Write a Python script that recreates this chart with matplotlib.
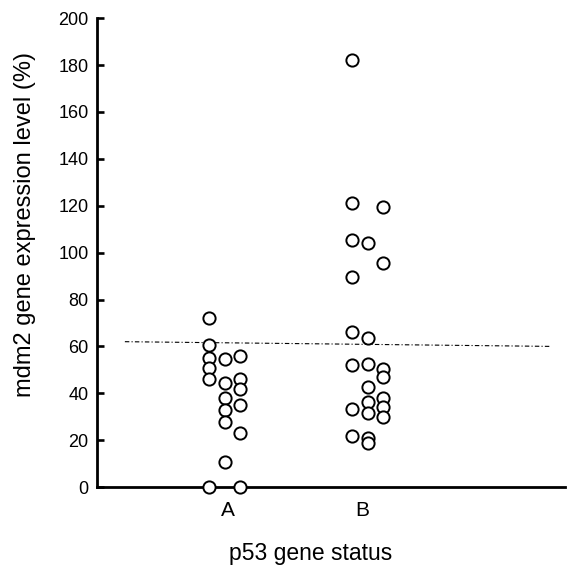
import matplotlib.pyplot as plt

plt.rcParams['font.family'] = ['Liberation Sans', 'DejaVu Sans']

groups = ["A", "B"]

# mdm2 expression level (%) per sample, with the column it is drawn in (-1, 0, 1)
a_values = [72, 60.5, 55, 50.7, 46, 0,
            54.6, 44.3, 38, 33, 27.7, 10.7,
            56, 46, 42, 35, 23, 0]
a_cols = [-1, -1, -1, -1, -1, -1,
          0, 0, 0, 0, 0, 0,
          1, 1, 1, 1, 1, 1]

b_values = [182, 121, 105.3, 89.6, 66, 52, 33.3, 21.7,
            104, 63.5, 52.5, 42.6, 36.2, 31.6, 21, 18.8,
            119.4, 95.5, 50.3, 47, 38, 34, 30]
b_cols = [-1, -1, -1, -1, -1, -1, -1, -1,
          0, 0, 0, 0, 0, 0, 0, 0,
          1, 1, 1, 1, 1, 1, 1]

cutoff = [62, 60]
yticks = list(range(0, 201, 20))

fig = plt.figure(figsize=(5.74, 5.70), dpi=100)
ax = fig.add_axes([0.169, 0.1456, 0.815, 0.8224])

spread = 0.108
for i, (vals, cols) in enumerate([(a_values, a_cols), (b_values, b_cols)]):
    xs = [i + 1 + c * spread for c in cols]
    ax.plot(xs, vals, linestyle="none", marker="o", markersize=8.8,
            markerfacecolor="white", markeredgecolor="black",
            markeredgewidth=1.4, clip_on=False, zorder=5)

ax.plot([0.30, 3.27], cutoff, color="black", linewidth=0.8,
        linestyle=(0, (4, 2, 1, 2)), zorder=3)

ax.set_xlim(0.105, 3.378)
ax.set_ylim(0, 200)
ax.set_xticks([1.02, 1.96])
ax.set_xticklabels(groups, fontsize=15)
ax.set_yticks(yticks)
ax.tick_params(axis="y", direction="in", length=5, width=1.9, labelsize=13, pad=6)
ax.tick_params(axis="x", length=0, pad=10)

for s in ["top", "right"]:
    ax.spines[s].set_visible(False)
for s in ["left", "bottom"]:
    ax.spines[s].set_linewidth(2.0)

ax.set_xlabel("p53 gene status", fontsize=16.5)
ax.set_ylabel("mdm2 gene expression level (%)", fontsize=17)
ax.xaxis.set_label_coords(0.457, -0.118)
ax.yaxis.set_label_coords(-0.13, 0.56)

fig.savefig("out.png", dpi=100)
